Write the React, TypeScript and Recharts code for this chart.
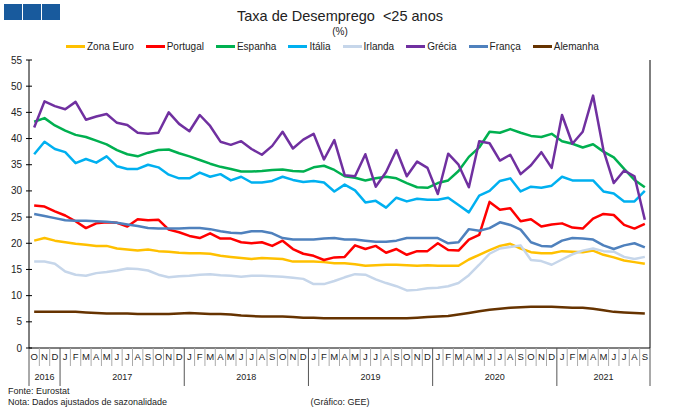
import React from 'react';
import { LineChart, Line, XAxis, YAxis } from 'recharts';

const months = [
  'O', 'N', 'D',
  'J', 'F', 'M', 'A', 'M', 'J', 'J', 'A', 'S', 'O', 'N', 'D',
  'J', 'F', 'M', 'A', 'M', 'J', 'J', 'A', 'S', 'O', 'N', 'D',
  'J', 'F', 'M', 'A', 'M', 'J', 'J', 'A', 'S', 'O', 'N', 'D',
  'J', 'F', 'M', 'A', 'M', 'J', 'J', 'A', 'S', 'O', 'N', 'D',
  'J', 'F', 'M', 'A', 'M', 'J', 'J', 'A', 'S',
];
const years = ['2016', '2017', '2018', '2019', '2020', '2021'];
const monthsPerYear = [3, 12, 12, 12, 12, 9];
const yTicks = [0, 5, 10, 15, 20, 25, 30, 35, 40, 45, 50, 55];

const zonaEuro = [
  20.5, 21.0, 20.5, 20.2, 19.9, 19.7, 19.5, 19.5, 19.0, 18.8, 18.6, 18.8, 18.5, 18.4, 18.2,
  18.1, 18.1, 18.0, 17.6, 17.4, 17.2, 17.0, 17.2, 17.1, 17.0, 16.5, 16.5, 16.5, 16.4, 16.2,
  16.2, 16.0, 15.7, 15.8, 15.9, 15.9, 15.8, 15.7, 15.8, 15.7, 15.7, 15.7, 16.9, 17.8, 18.7,
  19.5, 19.9, 19.0, 18.3, 18.1, 18.1, 18.5, 18.4, 18.3, 18.6, 17.8, 17.3, 16.7, 16.4, 16.1,
];
const portugal = [
  27.2, 27.0, 26.1, 25.3, 24.2, 22.9, 23.8, 24.0, 23.9, 23.2, 24.6, 24.4, 24.5, 22.6, 22.1,
  21.4, 21.0, 21.9, 20.9, 20.9, 20.2, 20.0, 20.2, 19.5, 20.5, 18.9, 18.0, 17.6, 16.8, 17.3,
  17.4, 19.6, 18.9, 19.5, 18.2, 18.9, 17.8, 18.5, 18.5, 20.0, 18.7, 18.6, 20.7, 21.6, 27.9,
  26.4, 26.7, 24.2, 24.6, 23.2, 23.6, 23.8, 23.0, 22.8, 24.7, 25.6, 25.4, 23.5, 22.8, 23.7,
];
const espanha = [
  43.2, 43.9, 42.5, 41.5, 40.7, 40.3, 39.6, 38.9, 37.8, 37.0, 36.6, 37.3, 37.8, 37.9, 37.2,
  36.6, 35.9, 35.2, 34.6, 34.2, 33.7, 33.7, 33.8, 34.0, 34.1, 33.8, 33.7, 34.5, 34.8, 34.0,
  32.8, 32.5, 32.0, 32.4, 32.7, 32.4, 31.5, 30.7, 30.6, 31.5, 32.0, 33.8, 36.5, 38.3, 41.3,
  41.1, 41.8, 41.1, 40.5, 40.3, 40.9, 39.5, 39.0, 38.3, 38.9, 37.5, 36.4, 34.2, 32.1, 30.7,
];
const italia = [
  37.0, 39.4, 38.0, 37.4, 35.3, 36.1, 35.4, 36.6, 34.7, 34.2, 34.2, 35.0, 34.5, 33.1, 32.4,
  32.4, 33.5, 32.7, 33.2, 32.0, 32.7, 31.6, 31.6, 31.9, 32.7, 32.1, 31.7, 31.9, 31.6, 29.9,
  31.2, 30.1, 27.8, 28.1, 26.8, 28.7, 28.0, 28.5, 28.3, 28.3, 28.7, 27.3, 25.9, 29.1, 30.0,
  31.9, 32.4, 29.9, 30.8, 30.6, 31.0, 32.7, 32.0, 32.0, 32.0, 29.9, 29.5, 28.0, 28.0, 30.0,
];
const irlanda = [
  16.5, 16.5, 16.1, 14.6, 14.0, 13.8, 14.3, 14.5, 14.8, 15.2, 15.1, 14.8, 14.0, 13.5, 13.7,
  13.8, 14.0, 14.1, 13.9, 13.8, 13.6, 13.8, 13.8, 13.7, 13.6, 13.4, 13.2, 12.2, 12.2, 12.8,
  13.5, 14.1, 14.0, 13.1, 12.4, 11.8, 11.0, 11.1, 11.4, 11.5, 11.8, 12.4, 13.9, 15.9, 18.0,
  19.0, 19.3, 19.6, 16.8, 16.6, 15.9, 16.9, 17.9, 18.6, 19.0, 18.5, 18.4, 17.4, 17.0, 17.4,
];
const grecia = [
  42.1, 47.1, 46.2, 45.6, 47.0, 43.6, 44.2, 44.7, 43.0, 42.6, 41.1, 40.9, 41.1, 45.0, 42.8,
  41.4, 44.5, 42.4, 39.4, 38.8, 39.5, 38.0, 36.9, 38.6, 41.3, 38.1, 39.8, 40.9, 36.0, 39.7,
  33.0, 32.8, 37.0, 30.8, 33.6, 37.8, 32.8, 35.6, 34.4, 29.4, 37.1, 35.0, 30.7, 39.5, 39.1,
  35.8, 36.9, 33.2, 34.9, 37.4, 34.4, 44.5, 39.0, 41.3, 48.2, 37.8, 31.5, 33.9, 32.8, 24.5,
];
const franca = [
  25.6, 25.2, 24.8, 24.4, 24.3, 24.3, 24.2, 24.1, 23.9, 23.6, 23.3, 22.9, 22.8, 22.8, 22.8,
  22.9, 22.9, 22.7, 22.3, 22.0, 21.9, 22.3, 22.3, 21.9, 21.0, 20.7, 20.7, 20.7, 20.9, 21.0,
  20.7, 20.7, 20.5, 20.3, 20.3, 20.5, 21.0, 21.0, 21.0, 21.0, 20.0, 20.2, 22.7, 22.4, 22.9,
  24.0, 23.5, 22.6, 20.2, 19.5, 19.4, 20.5, 21.0, 20.9, 20.7, 19.6, 18.9, 19.6, 20.0, 19.2,
];
const alemanha = [
  6.9, 6.9, 6.9, 6.9, 6.9, 6.8, 6.7, 6.6, 6.6, 6.6, 6.5, 6.5, 6.5, 6.5, 6.6,
  6.7, 6.6, 6.5, 6.5, 6.4, 6.2, 6.1, 6.0, 6.0, 6.0, 5.9, 5.8, 5.8, 5.7, 5.7,
  5.7, 5.7, 5.7, 5.7, 5.7, 5.7, 5.7, 5.8, 5.9, 6.0, 6.1, 6.4, 6.7, 7.0, 7.3,
  7.5, 7.7, 7.8, 7.9, 7.9, 7.9, 7.8, 7.7, 7.7, 7.5, 7.2, 6.9, 6.8, 6.7, 6.6,
];

const series = [
  { key: 'zonaEuro', name: 'Zona Euro', color: '#FFC000', values: zonaEuro },
  { key: 'portugal', name: 'Portugal', color: '#FF0000', values: portugal },
  { key: 'espanha', name: 'Espanha', color: '#00B050', values: espanha },
  { key: 'italia', name: 'Itália', color: '#00B0F0', values: italia },
  { key: 'irlanda', name: 'Irlanda', color: '#C6D6EA', values: irlanda },
  { key: 'grecia', name: 'Grécia', color: '#7030A0', values: grecia },
  { key: 'franca', name: 'França', color: '#4F81BD', values: franca },
  { key: 'alemanha', name: 'Alemanha', color: '#663300', values: alemanha },
];

const data = months.map((m, i) => {
  const row: any = { id: i, m };
  series.forEach((s) => { row[s.key] = s.values[i]; });
  return row;
});

const FONT = '"Liberation Sans", Arial, sans-serif';
const PLOT_W = 621;
const BAND = PLOT_W / months.length;

const yearStarts: number[] = [];
monthsPerYear.reduce((acc, n) => { yearStarts.push(acc); return acc + n; }, 0);

const MonthTick = (props: any) => {
  const { x, y, index } = props;
  const left = x - BAND / 2;
  const k = yearStarts.indexOf(index);
  const last = index === months.length - 1;
  return (
    <g>
      <line x1={left} y1={y} x2={left} y2={y + (k >= 0 ? 38 : 18)} stroke={k >= 0 ? '#555' : '#aaa'} strokeWidth={1} />
      {last && <line x1={x + BAND / 2} y1={y} x2={x + BAND / 2} y2={y + 38} stroke="#555" strokeWidth={1} />}
      <text x={x} y={y + 12} textAnchor="middle" fontSize={9.5} fill="#222" fontFamily={FONT}>{months[index]}</text>
      {k >= 0 && (
        <text x={left + (monthsPerYear[k] * BAND) / 2} y={y + 32} textAnchor="middle" fontSize={9} fill="#222" fontFamily={FONT}>
          {years[k]}
        </text>
      )}
    </g>
  );
};

const LeftTick = (props: any) => {
  const { x, y, payload } = props;
  return (
    <g>
      <line x1={x - 3} y1={y} x2={x + 3} y2={y} stroke="#000" />
      <text x={x - 7} y={y + 3.5} textAnchor="end" fontSize={10} fill="#222" fontFamily={FONT}>{payload.value}</text>
    </g>
  );
};

const RightTick = (props: any) => {
  const { x, y, payload } = props;
  return (
    <g>
      <line x1={x - 3} y1={y} x2={x + 3} y2={y} stroke="#000" />
      <text x={x + 6} y={y + 3.5} textAnchor="start" fontSize={10} fill="#222" fontFamily={FONT}>{payload.value}</text>
    </g>
  );
};

export default function App() {
  return (
    <div style={{ position: 'absolute', left: 0, top: 0, width: 680, height: 415, background: '#fff', fontFamily: FONT, color: '#222' }}>
      <div style={{ position: 'absolute', left: 4, top: 4, display: 'flex', gap: 1 }}>
        {[0, 1, 2].map((i) => (
          <div key={i} style={{ width: 18, height: 16, background: '#185A9D' }} />
        ))}
      </div>
      <div style={{ position: 'absolute', left: 0, width: 680, top: 8, textAlign: 'center', fontSize: 14.5, whiteSpace: 'pre' }}>
        {'Taxa de Desemprego  <25 anos'}
      </div>
      <div style={{ position: 'absolute', left: 0, width: 680, top: 26, textAlign: 'center', fontSize: 10 }}>(%)</div>
      <div style={{ position: 'absolute', left: 66, top: 41, display: 'flex', gap: 12, fontSize: 10, alignItems: 'center' }}>
        {series.map((s) => (
          <div key={s.key} style={{ display: 'flex', alignItems: 'center', gap: 2 }}>
            <div style={{ width: 19, height: 3, background: s.color }} />
            <span>{s.name}</span>
          </div>
        ))}
      </div>
      <LineChart width={680} height={415} data={data} margin={{ top: 60, right: 0, bottom: 27, left: 0 }}>
        <XAxis
          dataKey="id"
          xAxisId="x"
          interval={0}
          tickSize={0}
          tickMargin={0}
          height={40}
          padding={{ left: BAND / 2, right: BAND / 2 }}
          axisLine={{ stroke: '#000' }}
          tickLine={false}
          tick={<MonthTick />}
        />
        <YAxis
          yAxisId="l"
          orientation="left"
          width={29}
          domain={[0, 55]}
          ticks={yTicks}
          interval={0}
          tickSize={0}
          tickMargin={0}
          tickLine={false}
          axisLine={{ stroke: '#000' }}
          tick={<LeftTick />}
        />
        <YAxis
          yAxisId="r"
          orientation="right"
          width={30}
          domain={[0, 55]}
          ticks={yTicks}
          interval={0}
          tickSize={0}
          tickMargin={0}
          tickLine={false}
          axisLine={{ stroke: '#000' }}
          tick={<RightTick />}
        />
        {series.map((s) => (
          <Line
            key={s.key}
            xAxisId="x"
            yAxisId="l"
            dataKey={s.key}
            name={s.name}
            stroke={s.color}
            strokeWidth={2.5}
            strokeLinejoin="round"
            dot={false}
            activeDot={false}
            isAnimationActive={false}
          />
        ))}
      </LineChart>
      <div style={{ position: 'absolute', left: 8, top: 386, fontSize: 9, lineHeight: '11px' }}>
        <div>Fonte: Eurostat</div>
        <div>Nota: Dados ajustados de sazonalidade</div>
      </div>
      <div style={{ position: 'absolute', left: 0, width: 680, top: 397, textAlign: 'center', fontSize: 9 }}>(Gráfico: GEE)</div>
    </div>
  );
}
